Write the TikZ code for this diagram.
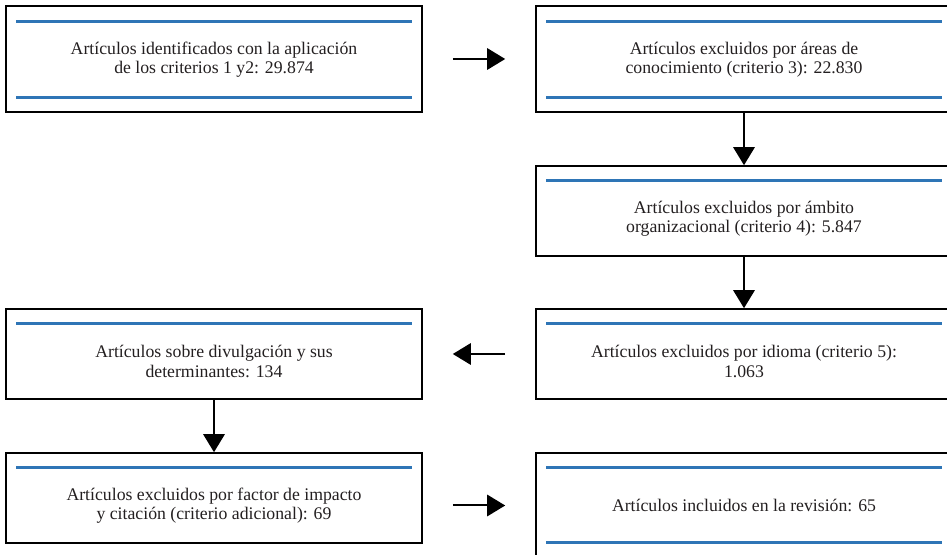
\documentclass[tikz,border=0pt]{standalone}
\usepackage{fontspec}
\setmainfont{Liberation Serif}
\usetikzlibrary{arrows.meta,calc}
\definecolor{bandblue}{RGB}{46,117,182}
\definecolor{inkgray}{RGB}{35,31,32}
\begin{document}
\begin{tikzpicture}[x=0.75pt,y=-0.75pt,
  box/.style={draw=black,line width=1.2pt,minimum width=312pt,inner sep=0pt},
  band/.style={draw=bandblue,line width=2pt},
  txt/.style={align=center,font=\fontsize{13.3}{14.6}\selectfont,text=inkgray,inner sep=0pt},
  arr/.style={line width=1.5pt,-{Triangle[length=13.5pt,width=16pt]}},
  gap/.style={shorten <=22.5pt,shorten >=22.5pt}]
\useasboundingbox (0,0) rectangle (947,555);

% boxes
\node[box,minimum height=79.5pt] (b1) at (214,59) {};
\node[box,minimum height=79.5pt] (b2) at (744,59) {};
\node[box,minimum height=67.5pt] (b3) at (744,211) {};
\node[box,minimum height=67.5pt] (b4) at (744,354) {};
\node[box,minimum height=67.5pt] (b5) at (214,354) {};
\node[box,minimum height=67.5pt] (b6) at (214,498) {};
\node[box,minimum height=82.5pt] (b7) at (744,508) {};

% blue bands
\draw[band] ($(b1.north west)+(11,16)$) -- ($(b1.north east)+(-11,16)$);
\draw[band] ($(b1.south west)+(11,-15)$) -- ($(b1.south east)+(-11,-15)$);
\draw[band] ($(b2.north west)+(11,16)$) -- ($(b2.north east)+(-11,16)$);
\draw[band] ($(b2.south west)+(11,-15)$) -- ($(b2.south east)+(-11,-15)$);
\draw[band] ($(b3.north west)+(11,15)$) -- ($(b3.north east)+(-11,15)$);
\draw[band] ($(b4.north west)+(11,15)$) -- ($(b4.north east)+(-11,15)$);
\draw[band] ($(b5.north west)+(11,15)$) -- ($(b5.north east)+(-11,15)$);
\draw[band] ($(b6.north west)+(11,15)$) -- ($(b6.north east)+(-11,15)$);
\draw[band] ($(b7.north west)+(11,15)$) -- ($(b7.north east)+(-11,15)$);
\draw[band] ($(b7.north west)+(11,90)$) -- ($(b7.north east)+(-11,90)$);

% texts
\node[txt] (t1) at (214,59.5) {Artículos identificados con la aplicación\\de los criterios 1 y2: 29.874};
\node[txt] (t2) at (744,59.5) {Artículos excluidos por áreas de\\conocimiento (criterio 3): 22.830};
\node[txt] (t3) at (744,218.5) {Artículos excluidos por ámbito\\organizacional (criterio 4): 5.847};
\node[txt] (t4) at (744,361.5) {Artículos excluidos por idioma (criterio 5):\\1.063};
\node[txt] (t5) at (214,361.5) {Artículos sobre divulgación y sus\\determinantes: 134};
\node[txt] (t6) at (214,505.5) {Artículos excluidos por factor de impacto\\y citación (criterio adicional): 69};
\node[txt] (t7) at (744,505.5) {Artículos incluidos en la revisión: 65};

% connectors
\draw[arr,gap] (b1) -- (b2);
\draw[arr] (b2) -- (b3);
\draw[arr] (b3) -- (b4);
\draw[arr,gap] (b4) -- (b5);
\draw[arr] (b5) -- (b6);
\draw[arr,gap] (b6.east |- t7) -- (b7.west |- t7);
\end{tikzpicture}
\end{document}
